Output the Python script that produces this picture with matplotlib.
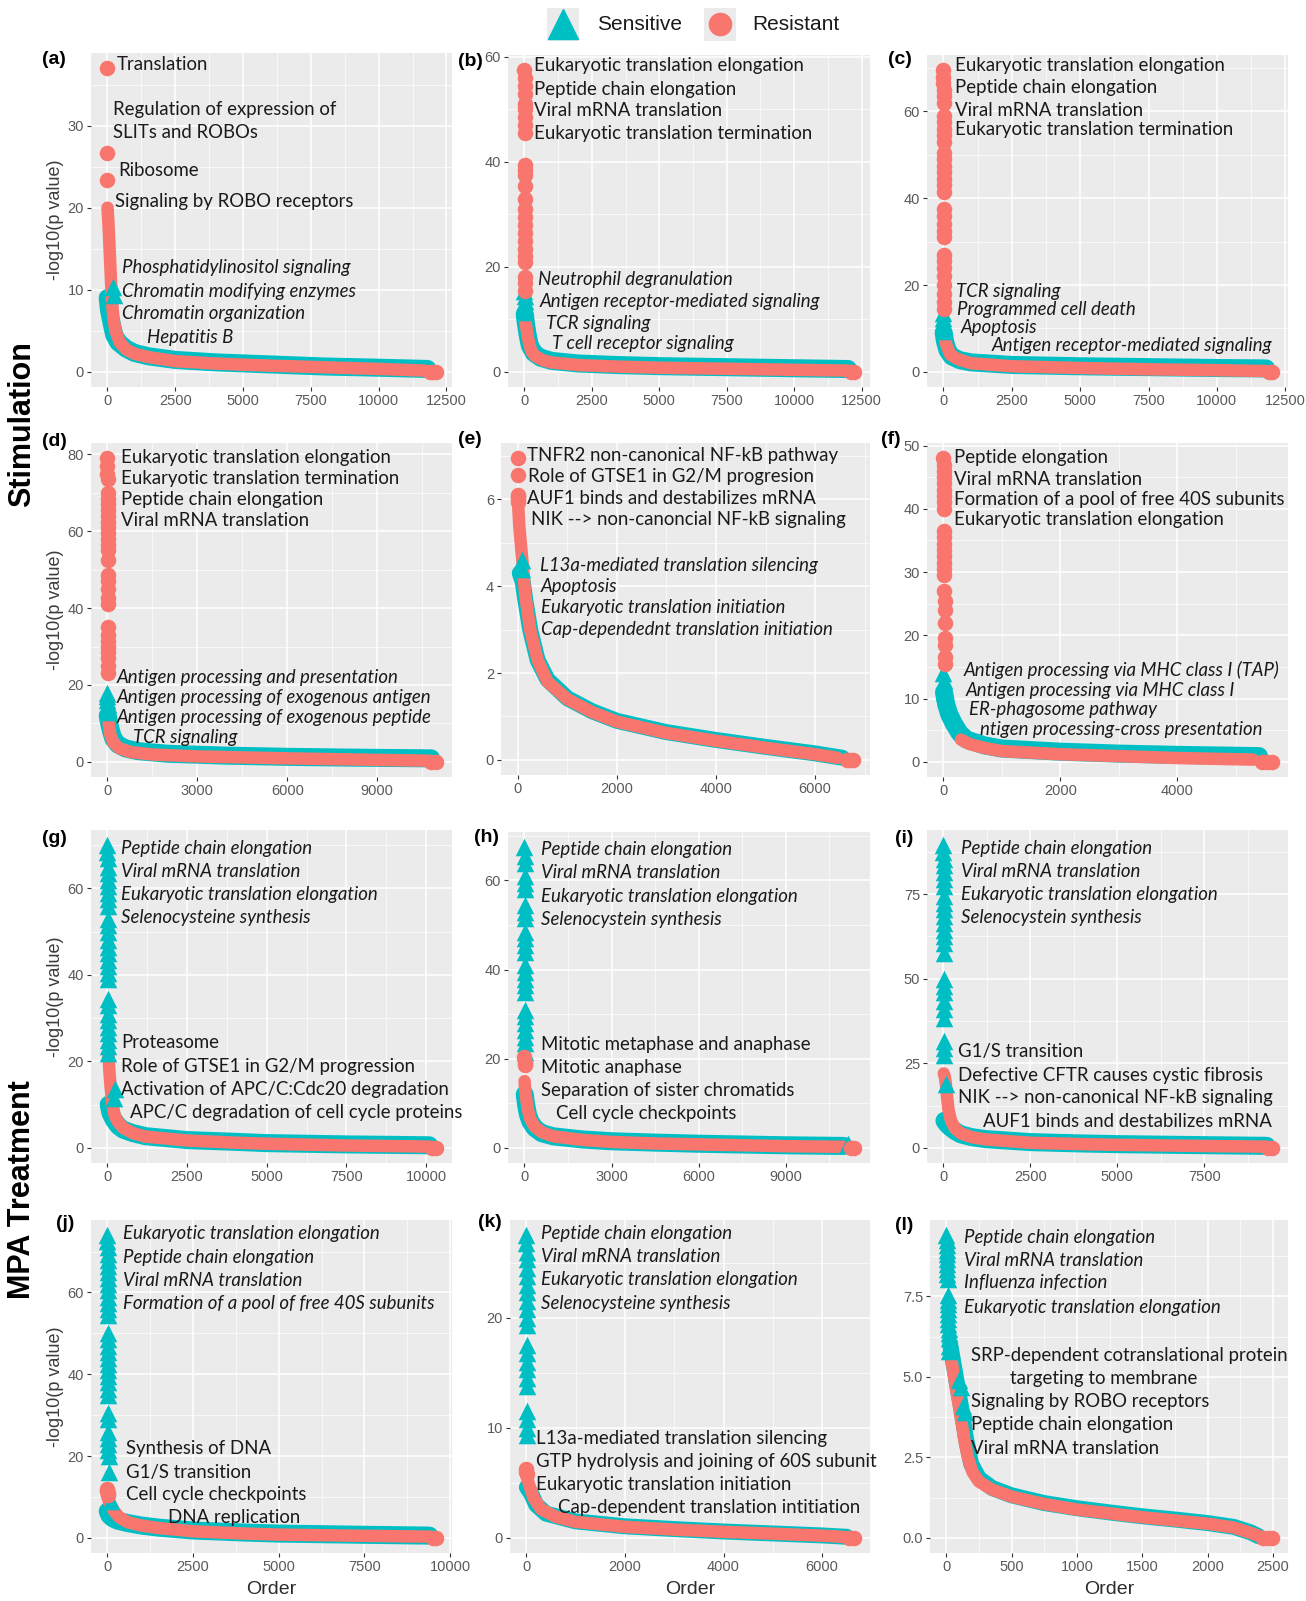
import numpy as np
import matplotlib
matplotlib.use('Agg')
import matplotlib.pyplot as plt
from matplotlib.ticker import AutoMinorLocator

SENS = '#00BFC4'
RES = '#F8766D'

# ---- pathway enrichment, -log10(p) against rank order -------------------
# *_res_col / *_sens_col : leading pathways, plotted at rank 1, 2, 3 ...
# *_tail                 : (order, value) along the rest of the ranked list
# *_end                  : last orders, where p = 1

# (a)
a_res_col = [37.0, 26.7, 23.4]
a_sens_col = []
a_sens_extra = [(200, 10.3), (230, 9.3)]
a_res_tail = [(4, 20), (40, 18), (80, 15), (120, 12), (160, 9), (220, 6.5), (300, 5), (450, 3.6), (700, 2.7),
              (1000, 2.2), (1500, 1.8), (2500, 1.3), (4000, 1.0), (6000, 0.75), (8000, 0.55), (10000, 0.35),
              (11700, 0.15)]
a_sens_tail = [(10, 9), (60, 7.5), (150, 6), (250, 4.5), (400, 3.6), (700, 2.8), (1000, 2.3), (1500, 1.9),
               (2500, 1.45), (4000, 1.15), (6000, 0.9), (8000, 0.65), (10000, 0.5), (11800, 0.35)]
a_res_end = [11900, 12000, 12100]

# (b)
b_res_col = [57.5, 56.0, 54.5, 53.0, 51.0, 50.0, 48.5, 47.0, 45.5, 39.5, 38.5, 37.5, 35.5, 33.0, 31.0, 29.5,
             28.0, 26.5, 25.0, 23.5, 22.0, 21.0, 18.0, 17.0, 15.5]
b_sens_col = [15.5, 14.5, 13.5, 12.5, 11.5]
b_sens_extra = []
b_res_tail = [(30, 10), (80, 8), (150, 6), (250, 4), (400, 3), (700, 2.2), (1000, 1.8), (2000, 1.3), (3500, 1.0),
              (5000, 0.8), (7500, 0.6), (10000, 0.4), (12000, 0.25)]
b_sens_tail = [(10, 11), (60, 9), (120, 7), (200, 5), (350, 3.6), (600, 2.7), (1000, 2.1), (2000, 1.6),
               (3500, 1.3), (5000, 1.1), (7500, 0.9), (10000, 0.7), (12000, 0.55)]
b_res_end = [12100, 12200]

# (c)
c_res_col = [69.5, 68.0, 66.5, 65.0, 63.5, 62.0, 59.0, 57.5, 56.0, 54.5, 53.0, 50.5, 49.0, 47.5, 46.0, 44.5,
             43.0, 41.5, 37.5, 36.0, 34.0, 32.5, 31.0, 27.0, 25.5, 24.0, 22.0, 20.0, 18.0, 16.0, 14.5]
c_sens_col = [13.5, 12.5, 11.5, 10.5, 9.5]
c_sens_extra = []
c_res_tail = [(40, 8), (120, 6), (250, 4), (500, 3), (1000, 2.0), (2500, 1.3), (5000, 0.9), (7500, 0.6),
              (10000, 0.4), (11800, 0.2)]
c_sens_tail = [(10, 9), (60, 7), (150, 5), (300, 3.6), (600, 2.7), (1000, 2.2), (2500, 1.6), (5000, 1.3),
               (7500, 1.1), (10000, 0.9), (11800, 0.8)]
c_res_end = [11900, 12000]

# (d)
d_res_col = [79.0, 77.0, 75.0, 73.5, 70.0, 68.5, 67.0, 65.5, 64.0, 62.5, 61.0, 59.5, 58.0, 56.5, 55.0, 52.5,
             48.5, 47.0, 45.0, 42.5, 41.0, 35.0, 33.0, 31.5, 30.0, 28.5, 27.0, 25.0, 23.0]
d_sens_col = [18.0, 17.0, 16.0, 15.0, 14.0, 13.0]
d_sens_extra = []
d_res_tail = [(40, 10), (100, 7), (200, 5), (400, 3.5), (800, 2.5), (1500, 1.9), (3000, 1.4), (6000, 0.9),
              (9000, 0.5), (10700, 0.3)]
d_sens_tail = [(10, 12), (60, 10), (120, 8), (200, 6), (350, 4.5), (600, 3.5), (1000, 2.8), (2000, 2.1),
               (4000, 1.6), (6000, 1.3), (8000, 1.1), (10800, 0.9)]
d_res_end = [10800, 10950]

# (e)
e_res_col = [6.95, 6.55, 6.1, 6.05, 6.0, 5.95]
e_sens_col = []
e_sens_extra = [(80, 4.6), (95, 4.4)]
e_res_tail = [(7, 5.9), (30, 5.4), (60, 5.0), (100, 4.5), (150, 3.8), (250, 3.0), (400, 2.3), (600, 1.8),
              (1000, 1.4), (1500, 1.1), (2000, 0.88), (3000, 0.62), (4000, 0.44), (5000, 0.28), (6000, 0.13),
              (6450, 0.05)]
e_sens_tail = [(40, 4.3), (100, 4.1), (150, 3.7), (250, 3.0), (400, 2.3), (600, 1.85), (1000, 1.42),
               (1500, 1.12), (2000, 0.9), (3000, 0.64), (4000, 0.46), (5000, 0.3), (6000, 0.15), (6550, 0.05)]
e_res_end = [6650, 6700, 6770]

# (f)
f_res_col = [48.0, 47.0, 46.0, 45.0, 44.0, 43.0, 42.0, 41.0, 40.0, 36.5, 35.5, 34.5, 33.5, 32.5, 31.5, 30.5,
             29.5, 27.0, 25.5, 24.0, 22.0, 19.5, 18.5, 16.5, 15.5]
f_sens_col = [14.0, 13.0, 12.0, 11.5, 11.0]
f_sens_extra = []
f_res_tail = [(300, 3.5), (450, 2.8), (700, 2.2), (1000, 1.7), (2000, 1.2), (3000, 0.9), (4000, 0.6),
              (5300, 0.35)]
f_sens_tail = [(10, 11), (50, 9), (100, 7.5), (180, 6), (280, 4.5), (400, 3.5), (700, 2.6), (1000, 2.1),
               (2000, 1.6), (3000, 1.3), (4000, 1.1), (5400, 0.9)]
f_res_end = [5450, 5530, 5616]

# (g)
g_res_col = []
g_sens_col = [70.0, 68.5, 67.0, 65.0, 63.5, 62.0, 60.5, 59.0, 57.5, 56.0, 53.0, 51.5, 50.0, 48.0, 46.5, 45.0,
              43.5, 42.0, 40.5, 39.0, 34.5, 33.0, 31.0, 29.5, 28.0, 26.5, 25.0, 23.5, 22.0]
g_sens_extra = [(200, 11.5), (230, 13.5)]
g_res_tail = [(30, 21.5), (60, 18), (100, 14), (160, 10), (230, 7.5), (330, 6), (500, 4.6), (800, 3.4),
              (1200, 2.6), (2500, 1.7), (4000, 1.2), (5000, 0.95), (7500, 0.55), (10100, 0.3)]
g_sens_tail = [(40, 10), (100, 8), (200, 6.5), (350, 5), (500, 4.2), (800, 3.4), (1200, 2.7), (2500, 1.8),
               (4000, 1.4), (5000, 1.1), (7500, 0.8), (10100, 0.6)]
g_res_end = [10200, 10300]

# (h)
h_res_col = [20.5, 19.0, 18.5]
h_sens_col = [67.5, 65.5, 64.0, 61.0, 59.5, 58.0, 54.5, 53.0, 51.5, 48.5, 47.0, 45.5, 44.0, 41.0, 39.5, 38.0,
              36.5, 35.0, 31.0, 29.5, 28.0, 26.5, 25.0, 23.5, 21.5]
h_sens_extra = [(11150, 0.8)]
h_res_tail = [(4, 15), (20, 13.5), (60, 11), (120, 8.5), (200, 6.5), (350, 4.8), (600, 3.5), (1000, 2.6),
              (2000, 1.8), (3000, 1.35), (4500, 1.0), (6000, 0.8), (9000, 0.4), (11000, 0.25)]
h_sens_tail = [(10, 12), (50, 10), (120, 7.5), (200, 6), (350, 4.5), (600, 3.3), (1000, 2.6), (2000, 1.9),
               (3000, 1.5), (4500, 1.2), (6000, 0.95), (9000, 0.6), (11000, 0.45)]
h_res_end = [11250, 11330]

# (i)
i_res_col = []
i_sens_col = [89.5, 87.5, 85.5, 83.5, 81.5, 79.5, 77.5, 74.5, 72.5, 70.5, 68.5, 66.5, 64.5, 62.5, 60.5, 57.5,
              50.0, 48.0, 46.0, 43.5, 41.0, 38.5, 31.5, 29.5, 27.5]
i_sens_extra = [(70, 19)]
i_res_tail = [(10, 22), (40, 21), (70, 19), (100, 15.5), (150, 11), (220, 8), (330, 5.8), (500, 4.3),
              (800, 3.2), (1200, 2.5), (2500, 1.5), (4000, 1.1), (5000, 0.9), (7500, 0.55), (9300, 0.35)]
i_sens_tail = [(30, 8), (100, 7), (200, 6), (330, 5), (500, 4), (800, 3.2), (1200, 2.6), (2500, 1.7),
               (4000, 1.3), (5000, 1.1), (7500, 0.8), (9300, 0.6)]
i_res_end = [9350, 9440]

# (j)
j_res_col = [12.0, 11.5, 11.0, 10.5]
j_sens_col = [74.0, 72.5, 71.0, 69.5, 68.0, 66.5, 65.0, 63.5, 62.0, 60.5, 59.0, 57.5, 56.0, 54.5, 50.0, 48.5,
              47.0, 45.5, 44.0, 42.5, 41.0, 39.5, 38.0, 36.5, 35.0, 30.5, 29.0, 26.0, 24.5, 23.0, 21.5, 20.0, 16.0]
j_sens_extra = [(110, 9.0)]
j_res_tail = [(5, 10), (40, 9), (100, 8), (200, 6.5), (350, 5), (600, 3.8), (1000, 3.0), (1500, 2.4),
              (2500, 1.6), (4000, 1.05), (5000, 0.8), (7500, 0.5), (9400, 0.3)]
j_sens_tail = [(10, 6.5), (60, 5.5), (150, 4.8), (300, 4.2), (600, 3.6), (1000, 3.0), (1500, 2.5), (2500, 1.8),
               (4000, 1.3), (5000, 1.05), (7500, 0.75), (9400, 0.55)]
j_res_end = [9500, 9580]

# (k)
k_res_col = [6.3, 6.0, 5.8]
k_sens_col = [27.5, 26.8, 26.0, 25.3, 24.5, 23.8, 23.0, 22.3, 21.5, 20.8, 20.0, 19.3, 17.5, 16.8, 16.0, 15.3,
              14.5, 13.8, 11.5, 10.8, 10.0, 9.3]
k_sens_extra = []
k_res_tail = [(4, 5.6), (30, 5.2), (80, 4.5), (150, 3.6), (300, 2.6), (600, 1.9), (1000, 1.45), (2000, 1.0),
              (3000, 0.75), (4000, 0.55), (5000, 0.38), (6000, 0.2), (6450, 0.08)]
k_sens_tail = [(10, 4.6), (100, 4.0), (200, 3.0), (400, 2.2), (1000, 1.5), (2000, 1.05), (3000, 0.8),
               (4000, 0.58), (5000, 0.4), (6000, 0.22), (6500, 0.1)]
k_res_end = [6550, 6640]

# (l)
l_res_col = []
l_sens_col = [9.4, 9.25, 9.1, 8.95, 8.8, 8.65, 8.5, 8.35, 8.2, 8.05, 7.55, 7.4, 7.25, 7.1, 6.95, 6.8, 6.65,
              6.5, 6.35, 6.2, 5.95, 5.8]
l_sens_extra = [(100, 4.9), (110, 4.7), (130, 4.1), (140, 3.9)]
l_res_tail = [(40, 5.5), (60, 5.0), (80, 4.5), (100, 4.0), (120, 3.5), (140, 3.0), (165, 2.5), (200, 2.05),
              (250, 1.75), (350, 1.5), (500, 1.28), (750, 1.05), (1000, 0.88), (1250, 0.76), (1500, 0.64),
              (1750, 0.54), (2000, 0.44), (2200, 0.32), (2330, 0.15), (2400, 0.05)]
l_sens_tail = [(30, 6.0), (60, 5.3), (90, 4.6), (120, 3.9), (150, 3.1), (190, 2.3), (250, 1.85), (350, 1.55),
               (500, 1.32), (750, 1.08), (1000, 0.92), (1250, 0.79), (1500, 0.67), (1750, 0.57), (2000, 0.46),
               (2200, 0.34), (2330, 0.17), (2390, 0.05)]
l_res_end = [2420, 2460, 2490]

# ---- layout (pixel boxes: left, top, right, bottom) ---------------------
W, H = 1306, 1601
UP, IT = False, True

PANELS = [
    dict(tag='(a)', tag_xy=(54, 59), box=(91, 53, 452, 387),
         res_col=a_res_col, sens_col=a_sens_col, sens_extra=a_sens_extra,
         res_tail=a_res_tail, sens_tail=a_sens_tail, res_end=a_res_end,
         xticks=[0, 2500, 5000, 7500, 10000, 12500], yticks=[0, 10, 20, 30],
         notes=[(117, 65, 'Translation', UP), (113, 109, 'Regulation of expression of', UP),
                (113, 132, 'SLITs and ROBOs', UP), (118, 171, 'Ribosome', UP),
                (115, 201, 'Signaling by ROBO receptors', UP),
                (122, 268, 'Phosphatidylinositol signaling', IT), (122, 292, 'Chromatin modifying enzymes', IT),
                (122, 314, 'Chromatin organization', IT), (147, 338, 'Hepatitis B', IT)]),
    dict(tag='(b)', tag_xy=(470, 61), box=(508, 55, 870, 387),
         res_col=b_res_col, sens_col=b_sens_col, sens_extra=b_sens_extra,
         res_tail=b_res_tail, sens_tail=b_sens_tail, res_end=b_res_end,
         xticks=[0, 2500, 5000, 7500, 10000, 12500], yticks=[0, 20, 40, 60],
         notes=[(534, 66, 'Eukaryotic translation elongation', UP), (534, 89, 'Peptide chain elongation', UP),
                (534, 111, 'Viral mRNA translation', UP), (534, 133, 'Eukaryotic translation termination', UP),
                (538, 279, 'Neutrophil degranulation', IT), (540, 301, 'Antigen receptor-mediated signaling', IT),
                (546, 323, 'TCR signaling', IT), (552, 344, 'T cell receptor signaling', IT)]),
    dict(tag='(c)', tag_xy=(900, 60), box=(927, 55, 1288, 387),
         res_col=c_res_col, sens_col=c_sens_col, sens_extra=c_sens_extra,
         res_tail=c_res_tail, sens_tail=c_sens_tail, res_end=c_res_end,
         xticks=[0, 2500, 5000, 7500, 10000, 12500], yticks=[0, 20, 40, 60],
         notes=[(955, 66, 'Eukaryotic translation elongation', UP), (955, 88, 'Peptide chain elongation', UP),
                (955, 110, 'Viral mRNA translation', UP), (955, 130, 'Eukaryotic translation termination', UP),
                (956, 291, 'TCR signaling', IT), (957, 309, 'Programmed cell death', IT),
                (961, 328, 'Apoptosis', IT), (992, 346, 'Antigen receptor-mediated signaling', IT)]),
    dict(tag='(d)', tag_xy=(54, 441), box=(91, 443, 452, 777),
         res_col=d_res_col, sens_col=d_sens_col, sens_extra=d_sens_extra,
         res_tail=d_res_tail, sens_tail=d_sens_tail, res_end=d_res_end,
         xticks=[0, 3000, 6000, 9000], yticks=[0, 20, 40, 60, 80],
         notes=[(121, 458, 'Eukaryotic translation elongation', UP),
                (121, 478, 'Eukaryotic translation termination', UP),
                (121, 500, 'Peptide chain elongation', UP), (121, 521, 'Viral mRNA translation', UP),
                (117, 677, 'Antigen processing and presentation', IT),
                (117, 697, 'Antigen processing of exogenous antigen', IT),
                (117, 717, 'Antigen processing of exogenous peptide', IT), (133, 737, 'TCR signaling', IT)]),
    dict(tag='(e)', tag_xy=(470, 440), box=(501, 443, 870, 775), lw=(11.5, 9),
         res_col=e_res_col, sens_col=e_sens_col, sens_extra=e_sens_extra,
         res_tail=e_res_tail, sens_tail=e_sens_tail, res_end=e_res_end,
         xticks=[0, 2000, 4000, 6000], yticks=[0, 2, 4, 6],
         notes=[(527, 455, 'TNFR2 non-canonical NF-kB pathway', UP),
                (528, 476, 'Role of GTSE1 in G2/M progresion', UP),
                (527, 499, 'AUF1 binds and destabilizes mRNA', UP),
                (531, 520, 'NIK --> non-canoncial NF-kB signaling', UP),
                (540, 566, 'L13a-mediated translation silencing', IT), (541, 586, 'Apoptosis', IT),
                (541, 608, 'Eukaryotic translation initiation', IT),
                (541, 629, 'Cap-dependednt translation initiation', IT)]),
    dict(tag='(f)', tag_xy=(891, 440), box=(927, 443, 1288, 777),
         res_col=f_res_col, sens_col=f_sens_col, sens_extra=f_sens_extra,
         res_tail=f_res_tail, sens_tail=f_sens_tail, res_end=f_res_end,
         xticks=[0, 2000, 4000], yticks=[0, 10, 20, 30, 40, 50],
         notes=[(954, 458, 'Peptide elongation', UP), (954, 479, 'Viral mRNA translation', UP),
                (954, 499, 'Formation of a pool of free 40S subunits', UP),
                (954, 520, 'Eukaryotic translation elongation', UP),
                (964, 670, 'Antigen processing via MHC class I (TAP)', IT),
                (966, 690, 'Antigen processing via MHC class I', IT), (969, 710, 'ER-phagosome pathway', IT),
                (980, 729, 'ntigen processing-cross presentation', IT)]),
    dict(tag='(g)', tag_xy=(54, 838), box=(91, 830, 452, 1163),
         res_col=g_res_col, sens_col=g_sens_col, sens_extra=g_sens_extra,
         res_tail=g_res_tail, sens_tail=g_sens_tail, res_end=g_res_end,
         xticks=[0, 2500, 5000, 7500, 10000], yticks=[0, 20, 40, 60],
         notes=[(121, 848, 'Peptide chain elongation', IT), (121, 871, 'Viral mRNA translation', IT),
                (121, 894, 'Eukaryotic translation elongation', IT), (121, 917, 'Selenocysteine synthesis', IT),
                (121, 1042, 'Proteasome', UP), (121, 1066, 'Role of GTSE1 in G2/M progression', UP),
                (121, 1089, 'Activation of APC/C:Cdc20 degradation', UP),
                (130, 1112, 'APC/C degradation of cell cycle proteins', UP)]),
    dict(tag='(h)', tag_xy=(487, 837), box=(508, 832, 870, 1163),
         res_col=h_res_col, sens_col=h_sens_col, sens_extra=h_sens_extra,
         res_tail=h_res_tail, sens_tail=h_sens_tail, res_end=h_res_end,
         xticks=[0, 3000, 6000, 9000], yticks=[0, 20, 40, 60],
         notes=[(541, 849, 'Peptide chain elongation', IT), (541, 872, 'Viral mRNA translation', IT),
                (541, 896, 'Eukaryotic translation elongation', IT), (541, 919, 'Selenocystein synthesis', IT),
                (541, 1044, 'Mitotic metaphase and anaphase', UP), (541, 1067, 'Mitotic anaphase', UP),
                (541, 1090, 'Separation of sister chromatids', UP), (556, 1113, 'Cell cycle checkpoints', UP)]),
    dict(tag='(i)', tag_xy=(904, 838), box=(927, 830, 1288, 1163),
         res_col=i_res_col, sens_col=i_sens_col, sens_extra=i_sens_extra,
         res_tail=i_res_tail, sens_tail=i_sens_tail, res_end=i_res_end,
         xticks=[0, 2500, 5000, 7500], yticks=[0, 25, 50, 75],
         notes=[(961, 848, 'Peptide chain elongation', IT), (961, 871, 'Viral mRNA translation', IT),
                (961, 894, 'Eukaryotic translation elongation', IT), (961, 917, 'Selenocystein synthesis', IT),
                (958, 1052, 'G1/S transition', UP), (958, 1076, 'Defective CFTR causes cystic fibrosis', UP),
                (958, 1098, 'NIK --> non-canonical NF-kB signaling', UP),
                (983, 1121, 'AUF1 binds and destabilizes mRNA', UP)]),
    dict(tag='(j)', tag_xy=(65, 1223), box=(91, 1220, 452, 1553),
         res_col=j_res_col, sens_col=j_sens_col, sens_extra=j_sens_extra,
         res_tail=j_res_tail, sens_tail=j_sens_tail, res_end=j_res_end,
         xticks=[0, 2500, 5000, 7500, 10000], yticks=[0, 20, 40, 60],
         notes=[(123, 1234, 'Eukaryotic translation elongation', IT), (123, 1258, 'Peptide chain elongation', IT),
                (123, 1281, 'Viral mRNA translation', IT),
                (123, 1303, 'Formation of a pool of free 40S subunits', IT),
                (126, 1448, 'Synthesis of DNA', UP), (126, 1472, 'G1/S transition', UP),
                (126, 1494, 'Cell cycle checkpoints', UP), (168, 1517, 'DNA replication', UP)]),
    dict(tag='(k)', tag_xy=(490, 1222), box=(510, 1220, 870, 1553), lw=(11.5, 9),
         res_col=k_res_col, sens_col=k_sens_col, sens_extra=k_sens_extra,
         res_tail=k_res_tail, sens_tail=k_sens_tail, res_end=k_res_end,
         xticks=[0, 2000, 4000, 6000], yticks=[0, 10, 20],
         notes=[(541, 1233, 'Peptide chain elongation', IT), (541, 1257, 'Viral mRNA translation', IT),
                (541, 1279, 'Eukaryotic translation elongation', IT), (541, 1303, 'Selenocysteine synthesis', IT),
                (536, 1438, 'L13a-mediated translation silencing', UP),
                (536, 1461, 'GTP hydrolysis and joining of 60S subunit', UP),
                (536, 1484, 'Eukaryotic translation initiation', UP),
                (558, 1507, 'Cap-dependent translation intitiation', UP)]),
    dict(tag='(l)', tag_xy=(904, 1225), box=(930, 1220, 1288, 1553), lw=(11.5, 9),
         res_col=l_res_col, sens_col=l_sens_col, sens_extra=l_sens_extra,
         res_tail=l_res_tail, sens_tail=l_sens_tail, res_end=l_res_end,
         xticks=[0, 500, 1000, 1500, 2000, 2500], yticks=[0, 2.5, 5.0, 7.5], yfmt='{:.1f}',
         notes=[(964, 1237, 'Peptide chain elongation', IT), (964, 1260, 'Viral mRNA translation', IT),
                (964, 1283, 'Influenza infection', IT), (964, 1307, 'Eukaryotic translation elongation', IT),
                (971, 1355, 'SRP-dependent cotranslational protein', UP), (1010, 1378, 'targeting to membrane', UP),
                (971, 1401, 'Signaling by ROBO receptors', UP), (971, 1424, 'Peptide chain elongation', UP),
                (971, 1448, 'Viral mRNA translation', UP)]),
]

NOTE_FONT = 'Lato'
AXIS_FONT = 'Liberation Sans'


def fig_xy(x, y):
    return x / W, 1 - y / H


def draw_panel(fig, p):
    l, t, r, b = p['box']
    ax = fig.add_axes([l / W, 1 - b / H, (r - l) / W, (b - t) / H])
    ax.set_facecolor('#EBEBEB')
    for s in ax.spines.values():
        s.set_visible(False)

    lw_s, lw_r = p.get('lw', (13, 9))
    sx, sy = zip(*p['sens_tail'])
    rx, ry = zip(*p['res_tail'])
    ax.plot(sx, sy, color=SENS, lw=lw_s, solid_capstyle='round', solid_joinstyle='round', zorder=2)
    ax.plot(rx, ry, color=RES, lw=lw_r, solid_capstyle='round', solid_joinstyle='round', zorder=3)

    xs, ys = list(sx) + list(rx), list(sy) + list(ry)
    if p['sens_col']:
        rank = np.arange(1, len(p['sens_col']) + 1)
        ax.scatter(rank, p['sens_col'], marker='^', s=160, color=SENS, lw=0, zorder=4)
        xs += list(rank)
        ys += p['sens_col']
    if p['sens_extra']:
        ex, ey = zip(*p['sens_extra'])
        ax.scatter(ex, ey, marker='^', s=160, color=SENS, lw=0, zorder=4)
    if p['res_col']:
        rank = np.arange(1, len(p['res_col']) + 1)
        ax.scatter(rank, p['res_col'], marker='o', s=125, color=RES, lw=0, zorder=5)
        xs += list(rank)
        ys += p['res_col']
    ax.scatter(p['res_end'], np.zeros(len(p['res_end'])), marker='o', s=125, color=RES, lw=0, zorder=5)
    xs += p['res_end']

    # ggplot-style limits: data range plus 5 % on each side
    xmax, ymax = max(xs), max(ys)
    ax.set_xlim(-0.05 * xmax, 1.05 * xmax)
    ax.set_ylim(-0.05 * ymax, 1.05 * ymax)

    ax.set_xticks(p['xticks'])
    ax.set_xticklabels([str(v) for v in p['xticks']], family=AXIS_FONT)
    ax.set_yticks(p['yticks'])
    fmt = p.get('yfmt', '{:g}')
    ax.set_yticklabels([fmt.format(v) for v in p['yticks']], family=AXIS_FONT)
    ax.xaxis.set_minor_locator(AutoMinorLocator(2))
    ax.yaxis.set_minor_locator(AutoMinorLocator(2))
    ax.tick_params(which='major', length=3, width=0.8, color='#333333', labelcolor='#5A5A5A',
                   labelsize=10.5, pad=2)
    ax.tick_params(which='minor', length=0)
    ax.grid(which='major', color='white', lw=1.1)
    ax.grid(which='minor', color='white', lw=0.5)
    ax.set_axisbelow(True)

    for x, y, txt, italic in p['notes']:
        fig.text(*fig_xy(x, y), txt, ha='left', va='center', fontsize=13.4, family=NOTE_FONT,
                 style='italic' if italic else 'normal', color='#1A1A1A', zorder=10)
    fig.text(*fig_xy(*p['tag_xy']), p['tag'], ha='center', va='center', fontsize=14, weight='bold',
             family=AXIS_FONT, color='black')
    return ax


fig = plt.figure(figsize=(W / 100, H / 100), dpi=100)

for i, panel in enumerate(PANELS):
    draw_panel(fig, panel)
    l, t, r, b = panel['box']
    if i % 3 == 0:
        fig.text(*fig_xy(55, (t + b) / 2), '-log10(p value)', rotation=90, ha='center', va='center',
                 fontsize=13, family=AXIS_FONT, color='#3C3C3C')
    if i >= 9:
        fig.text(*fig_xy((l + r) / 2, 1589), 'Order', ha='center', va='center', fontsize=14,
                 family=AXIS_FONT, color='#2B2B2B')

# row group titles
fig.text(*fig_xy(22, 424), 'Stimulation', rotation=90, ha='center', va='center', fontsize=22,
         weight='bold', family=AXIS_FONT)
fig.text(*fig_xy(22, 1190), 'MPA Treatment', rotation=90, ha='center', va='center', fontsize=22,
         weight='bold', family=AXIS_FONT)

# legend along the top, ggplot keys with grey boxes
leg = fig.add_axes([0, 1 - 48 / H, 1, 48 / H])
leg.set_xlim(0, W)
leg.set_ylim(48, 0)
leg.axis('off')
for kx, tx, mk, ms, col, lab in [(563, 597, '^', 21, SENS, 'Sensitive'), (720, 752, 'o', 16, RES, 'Resistant')]:
    leg.add_patch(plt.Rectangle((kx - 16, 8), 32, 33, color='#EBEBEB', lw=0))
    leg.plot([kx], [24], marker=mk, markersize=ms, color=col, lw=0)
    leg.text(tx, 25, lab, ha='left', va='center', fontsize=15, family=AXIS_FONT, color='#1A1A1A')

fig.savefig('out.png', dpi=100)
